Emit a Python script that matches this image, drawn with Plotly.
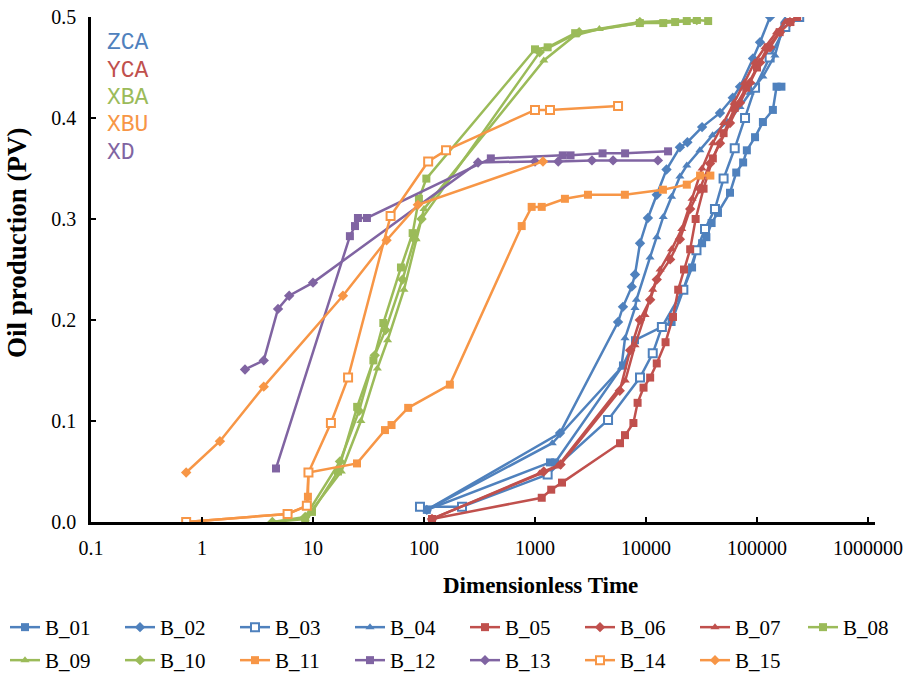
import plotly.graph_objects as go

BLUE = "#4F81BD"; RED = "#C0504D"; GREEN = "#9BBB59"; ORANGE = "#F79646"; PURPLE = "#8064A2"

# ---- data (dimensionless time, oil production PV) ----
B_01_x = [106, 1365, 1520, 6200, 7960, 17000, 21700, 26000, 28500, 32000, 35000, 39000, 44500, 57100, 65000, 75000, 81000, 96000, 113000, 139000, 150000, 166000]
B_01_y = [0.012, 0.059, 0.059, 0.155, 0.180, 0.198, 0.230, 0.252, 0.269, 0.276, 0.282, 0.296, 0.306, 0.326, 0.346, 0.356, 0.368, 0.381, 0.396, 0.408, 0.431, 0.431]

B_02_x = [106, 1680, 5600, 6200, 7440, 7960, 8830, 10400, 12500, 15300, 20200, 23600, 32000, 46400, 60500, 70300, 92000, 106500, 131000]
B_02_y = [0.012, 0.088, 0.198, 0.213, 0.233, 0.245, 0.276, 0.301, 0.324, 0.349, 0.371, 0.376, 0.391, 0.405, 0.420, 0.431, 0.459, 0.475, 0.500]

B_03_x = [92, 220, 1300, 4550, 8830, 11500, 13900, 21700, 28500, 34000, 41800, 50000, 63000, 78000, 96000, 130000, 180000, 240000]
B_03_y = [0.015, 0.015, 0.047, 0.101, 0.143, 0.167, 0.193, 0.230, 0.269, 0.290, 0.310, 0.340, 0.370, 0.400, 0.430, 0.460, 0.490, 0.500]

B_04_x = [106, 1430, 6000, 6470, 7960, 8200, 10870, 12500, 14300, 17000, 20200, 23300, 30600, 39800, 54200, 70300, 86500, 113000, 145000, 179000]
B_04_y = [0.012, 0.078, 0.153, 0.182, 0.212, 0.220, 0.262, 0.282, 0.302, 0.322, 0.342, 0.353, 0.368, 0.383, 0.396, 0.411, 0.425, 0.441, 0.462, 0.497]

B_05_x = [118, 1150, 1400, 1750, 5830, 6470, 7700, 8400, 9500, 10900, 12500, 15000, 17500, 19500, 22000, 25000, 28000, 33000, 40000, 50000, 63000, 80000, 100000, 125000, 160000, 200000, 230000]
B_05_y = [0.003, 0.024, 0.032, 0.039, 0.078, 0.086, 0.098, 0.118, 0.133, 0.143, 0.157, 0.178, 0.203, 0.230, 0.250, 0.270, 0.300, 0.330, 0.360, 0.385, 0.410, 0.430, 0.450, 0.470, 0.485, 0.495, 0.500]

B_06_x = [118, 1200, 1700, 5800, 7200, 8800, 10900, 12500, 16500, 20200, 25000, 30600, 37700, 46400, 57100, 70300, 86500, 106500, 131000, 161000, 198000]
B_06_y = [0.003, 0.050, 0.057, 0.130, 0.170, 0.200, 0.220, 0.240, 0.260, 0.280, 0.310, 0.330, 0.355, 0.375, 0.395, 0.415, 0.435, 0.455, 0.470, 0.485, 0.495]

B_07_x = [118, 1100, 1600, 6500, 7960, 9800, 11500, 13400, 17000, 21000, 26000, 32000, 40000, 50000, 62000, 77000, 95000, 118000, 150000, 180000]
B_07_y = [0.003, 0.048, 0.055, 0.140, 0.175, 0.205, 0.230, 0.250, 0.270, 0.290, 0.320, 0.350, 0.375, 0.395, 0.415, 0.435, 0.455, 0.470, 0.485, 0.495]

B_08_x = [8.5, 9.8, 16.8, 25, 35, 43, 62, 79, 90, 105, 1000, 1300, 2300, 8800, 14300, 18300, 23300, 28700, 36300]
B_08_y = [0.000, 0.010, 0.050, 0.114, 0.160, 0.197, 0.252, 0.286, 0.320, 0.340, 0.468, 0.470, 0.484, 0.494, 0.494, 0.495, 0.496, 0.497, 0.496]

B_09_x = [4.3, 8.5, 18, 27, 38, 47, 66, 85, 100, 1200, 2300, 3800, 8800, 28700]
B_09_y = [0.000, 0.003, 0.050, 0.100, 0.152, 0.180, 0.230, 0.280, 0.310, 0.457, 0.482, 0.488, 0.494, 0.496]

B_10_x = [4.3, 8.5, 17.5, 26, 36, 45, 64, 82, 95, 1100, 2500, 8800, 28700]
B_10_y = [0.000, 0.005, 0.060, 0.110, 0.165, 0.190, 0.240, 0.280, 0.300, 0.465, 0.485, 0.495, 0.497]

B_11_x = [0.72, 5.9, 8.8, 9.0, 9.1, 24.9, 44.5, 51, 72, 171, 759, 933, 1150, 1860, 3000, 6450, 14200, 23300, 30700, 38000]
B_11_y = [0.000, 0.008, 0.016, 0.025, 0.049, 0.058, 0.091, 0.096, 0.113, 0.136, 0.293, 0.312, 0.312, 0.320, 0.324, 0.324, 0.329, 0.334, 0.343, 0.343]

B_12_x = [4.64, 21.5, 23.9, 25.4, 30.6, 400, 1780, 2090, 4060, 6480, 15800]
B_12_y = [0.053, 0.283, 0.293, 0.301, 0.301, 0.360, 0.363, 0.363, 0.365, 0.365, 0.367]

B_13_x = [2.44, 3.6, 4.84, 6.1, 10, 307, 1000, 1620, 3260, 5050, 12800]
B_13_y = [0.151, 0.160, 0.211, 0.224, 0.237, 0.356, 0.357, 0.357, 0.358, 0.358, 0.358]

B_14_x = [0.72, 5.9, 8.8, 9.1, 14.5, 20.7, 50, 109, 158, 1000, 1365, 5600]
B_14_y = [0.000, 0.008, 0.016, 0.049, 0.098, 0.143, 0.303, 0.357, 0.368, 0.408, 0.408, 0.412]

B_15_x = [0.72, 1.45, 3.6, 18.6, 46, 88, 1180]
B_15_y = [0.049, 0.080, 0.134, 0.224, 0.279, 0.314, 0.357]

series = [
    ("B_01", B_01_x, B_01_y, BLUE, "square", False),
    ("B_02", B_02_x, B_02_y, BLUE, "diamond", False),
    ("B_03", B_03_x, B_03_y, BLUE, "square", True),
    ("B_04", B_04_x, B_04_y, BLUE, "triangle-up", False),
    ("B_05", B_05_x, B_05_y, RED, "square", False),
    ("B_06", B_06_x, B_06_y, RED, "diamond", False),
    ("B_07", B_07_x, B_07_y, RED, "triangle-up", False),
    ("B_08", B_08_x, B_08_y, GREEN, "square", False),
    ("B_09", B_09_x, B_09_y, GREEN, "triangle-up", False),
    ("B_10", B_10_x, B_10_y, GREEN, "diamond", False),
    ("B_11", B_11_x, B_11_y, ORANGE, "square", False),
    ("B_12", B_12_x, B_12_y, PURPLE, "square", False),
    ("B_13", B_13_x, B_13_y, PURPLE, "diamond", False),
    ("B_14", B_14_x, B_14_y, ORANGE, "square", True),
    ("B_15", B_15_x, B_15_y, ORANGE, "diamond", False),
]
# legend rows: first 7 in one legend, B_08 in its own, rest in the second row
legend_of = {n: ("legend" if i < 7 else ("legend2" if i == 7 else "legend3"))
             for i, (n, *_r) in enumerate(series)}

group_labels = ["ZCA", "YCA", "XBA", "XBU", "XD"]
group_colors = [BLUE, RED, GREEN, ORANGE, PURPLE]

x_ticks = [0.1, 1, 10, 100, 1000, 10000, 100000, 1000000]
x_tick_text = ["0.1", "1", "10", "100", "1000", "10000", "100000", "1000000"]
y_ticks = [0.0, 0.1, 0.2, 0.3, 0.4, 0.5]

W, H = 919, 683
L, R, T, B = 91, 44, 17, 161
PW, PH = W - L - R, H - T - B

def px_x(px):
    return (px - L) / PW

def px_y(py):
    return (H - B - py) / PH

fig = go.Figure()
for name, xs, ys, col, sym, hollow in series:
    fig.add_trace(go.Scatter(
        x=xs, y=ys, name=name, mode="lines+markers", legend=legend_of[name],
        line=dict(color=col, width=2.5),
        marker=dict(symbol=sym, size=8,
                    color="white" if hollow else col,
                    line=dict(color=col, width=2 if hollow else 0)),
    ))

label_y = [43, 71, 98, 125, 153]
for lab, col, py in zip(group_labels, group_colors, label_y):
    fig.add_annotation(text=lab, xref="paper", yref="paper",
                       x=px_x(105), y=px_y(py), xanchor="left", yanchor="middle",
                       showarrow=False,
                       font=dict(family="Liberation Mono", size=23, color=col))

fig.add_annotation(text="<b>Dimensionless Time</b>", xref="paper", yref="paper",
                   x=px_x(540), y=px_y(585), xanchor="center", yanchor="middle",
                   showarrow=False, font=dict(family="Liberation Serif", size=23, color="black"))
fig.add_annotation(text="<b>Oil production (PV)</b>", xref="paper", yref="paper",
                   x=px_x(17), y=px_y(243), xanchor="center", yanchor="middle", textangle=-90,
                   showarrow=False, font=dict(family="Liberation Serif", size=27, color="black"))

leg_common = dict(orientation="h", xanchor="left", yanchor="top", entrywidth=70,
                  font=dict(size=21, family="Liberation Serif", color="black"),
                  bgcolor="rgba(0,0,0,0)", itemwidth=30)
fig.update_layout(
    width=W, height=H,
    margin=dict(l=L, r=R, t=T, b=B, autoexpand=False),
    paper_bgcolor="white", plot_bgcolor="white",
    font=dict(family="Liberation Serif", size=20, color="black"),
    showlegend=True,
    legend=dict(x=px_x(5), y=px_y(607), **leg_common),
    legend2=dict(x=px_x(5 + 7 * 114), y=px_y(607), **leg_common),
    legend3=dict(x=px_x(5), y=px_y(640), **leg_common),
)
fig.update_xaxes(type="log", range=[-1, 6.063], tickvals=x_ticks, ticktext=x_tick_text,
                 showline=True, linecolor="black", linewidth=2.5, ticks="inside",
                 ticklen=5, tickwidth=2, tickcolor="black", showgrid=False, zeroline=False,
                 automargin=False, ticklabelstandoff=6, tickfont=dict(size=20))
fig.update_yaxes(range=[0, 0.5], tickvals=y_ticks, tickformat=".1f",
                 showline=True, linecolor="black", linewidth=2.5, ticks="inside",
                 ticklen=5, tickwidth=2, tickcolor="black", showgrid=False, zeroline=False,
                 automargin=False, ticklabelstandoff=8, tickfont=dict(size=20))

fig.write_html("out.html", config={"displayModeBar": False},
               post_script="document.body.style.margin='0px';document.body.style.overflow='hidden';")
